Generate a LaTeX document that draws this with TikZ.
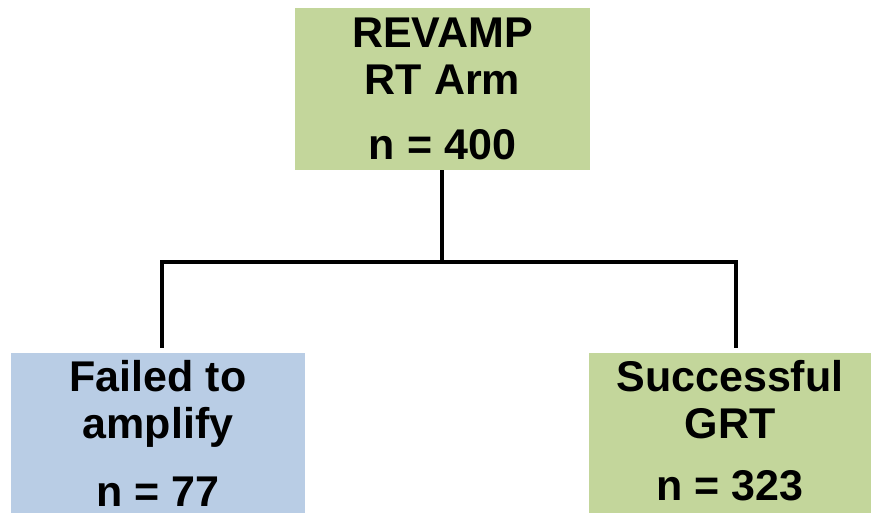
\documentclass[tikz,border=0pt]{standalone}
\usepackage{fontspec}
\setmainfont{Liberation Sans}
\usetikzlibrary{positioning,calc}
\definecolor{boxgreen}{HTML}{C3D69B}
\definecolor{boxblue}{HTML}{B9CDE5}

\begin{document}
\begin{tikzpicture}[x=1pt,y=-1pt,
	box/.style={draw=none,rectangle,inner sep=0pt},
	txt/.style={inner sep=0pt,align=center,font=\bfseries\fontsize{43}{47}\selectfont},
	link/.style={line width=4pt,shorten >=5pt}]
	\useasboundingbox (0,0) rectangle (871,513);
	\node[box,fill=boxgreen,minimum width=295pt,minimum height=162pt] (arm) at (442.5,89) {};
	\node[box,fill=boxblue,minimum width=294pt,minimum height=160pt] (fail) at (158,433) {};
	\node[box,fill=boxgreen,minimum width=282pt,minimum height=160pt] (grt) at (730,433) {};
	\node[txt,anchor=north] (armtxt) at ([yshift=-10pt]arm.north) {REVAMP\\RT Arm\\[18pt]n = 400};
	\node[txt,anchor=north] (failtxt) at ([yshift=-7pt]fail.north) {Failed to\\amplify\\[21pt]n = 77};
	\node[txt,anchor=north] (grttxt) at ([yshift=-7pt]grt.north) {Successful\\GRT\\[15pt]n = 323};
	\coordinate (bar) at (442,262);
	\draw[line width=4pt] ([xshift=-0.5pt]arm.south) -- ([xshift=-0.5pt]arm.south |- bar);
	\draw[link] ([xshift=4pt]fail.north |- bar) -- ([xshift=4pt]fail.north);
	\draw[link] ([xshift=6pt]grt.north |- bar) -- ([xshift=6pt]grt.north);
	\draw[line width=4pt,line cap=rect] ([xshift=4pt]fail.north |- bar) -- ([xshift=6pt]grt.north |- bar);
\end{tikzpicture}
\end{document}
